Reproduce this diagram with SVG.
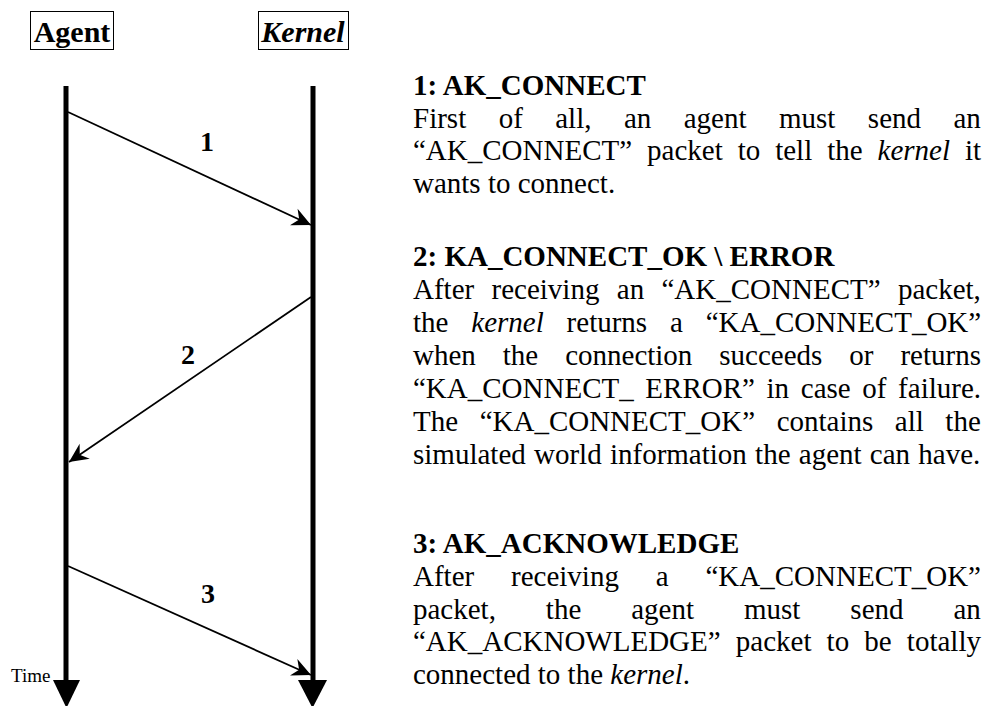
<svg xmlns="http://www.w3.org/2000/svg" width="988" height="706" viewBox="0 0 988 706">
<style>
text{font-family:"Liberation Serif","Times New Roman",serif;fill:#000}
.b{font-size:29px}
.h{font-size:29px;font-weight:bold}
.i{font-style:italic}
.lbl{font-size:30px;font-weight:bold;text-anchor:middle}
.num{font-size:28px;font-weight:bold;text-anchor:middle}
.box{fill:none;stroke:#000;stroke-width:1}
.life{stroke:#000;stroke-width:5;fill:none}
.msg{stroke:#000;stroke-width:1.8;fill:none;marker-end:url(#ah)}
</style>
<defs>
<marker id="ah" markerUnits="userSpaceOnUse" viewBox="-22 -12 24 24" markerWidth="24" markerHeight="24" refX="0" refY="0" orient="auto">
<path d="M0,0 L-19,-9 L-13,0 L-19,9 Z" fill="#000"/>
</marker>
</defs>
<rect width="988" height="706" fill="#fff"/>

<g id="agent">
<rect class="box" x="30.5" y="11.5" width="83" height="38"/>
<text class="lbl" x="72" y="42">Agent</text>
<line class="life" x1="66" y1="86" x2="66" y2="684"/>
<polygon points="53,680 80,680 66.5,708" fill="#000"/>
<text x="11" y="682" style="font-size:19px">Time</text>
</g>

<g id="kernel">
<rect class="box" x="258.5" y="11.5" width="90" height="38"/>
<text class="lbl i" x="303" y="42">Kernel</text>
<line class="life" x1="313" y1="86" x2="313" y2="684"/>
<polygon points="298,680 327,680 312.5,708" fill="#000"/>
</g>

<g id="connectors">
<line class="msg" x1="68" y1="112" x2="311" y2="225"/>
<line class="msg" x1="311" y1="297" x2="69" y2="462"/>
<line class="msg" x1="68" y1="566" x2="311" y2="675"/>
<text class="num" x="207" y="151">1</text>
<text class="num" x="188" y="364">2</text>
<text class="num" x="208" y="603">3</text>
</g>

<g id="desc1">
<text class="h" x="413" y="95">1: AK_CONNECT</text>
<text class="b" x="413" y="128" style="word-spacing:25.2px">First of all, an agent must send an</text>
<text class="b" x="413" y="160" style="word-spacing:7.7px">“AK_CONNECT” packet to tell the <tspan class="i">kernel</tspan> it</text>
<text class="b" x="413" y="193">wants to connect.</text>
</g>

<g id="desc2">
<text class="h" x="413" y="266">2: KA_CONNECT_OK \ ERROR</text>
<text class="b" x="413" y="299" style="word-spacing:10.1px">After receiving an “AK_CONNECT” packet,</text>
<text class="b" x="413" y="332" style="word-spacing:15.6px">the <tspan class="i">kernel</tspan> returns a “KA_CONNECT_OK”</text>
<text class="b" x="413" y="365" style="word-spacing:19.7px">when the connection succeeds or returns</text>
<text class="b" x="413" y="398" style="word-spacing:4.4px">“KA_CONNECT_ ERROR” in case of failure.</text>
<text class="b" x="413" y="431" style="word-spacing:14.3px">The “KA_CONNECT_OK” contains all the</text>
<text class="b" x="413" y="464" style="word-spacing:1px">simulated world information the agent can have.</text>
</g>

<g id="desc3">
<text class="h" x="413" y="553">3: AK_ACKNOWLEDGE</text>
<text class="b" x="413" y="586" style="word-spacing:29.6px">After receiving a “KA_CONNECT_OK”</text>
<text class="b" x="413" y="619" style="word-spacing:42.7px">packet, the agent must send an</text>
<text class="b" x="413" y="651" style="word-spacing:7.9px">“AK_ACKNOWLEDGE” packet to be totally</text>
<text class="b" x="413" y="684">connected to the <tspan class="i">kernel</tspan>.</text>
</g>
</svg>
